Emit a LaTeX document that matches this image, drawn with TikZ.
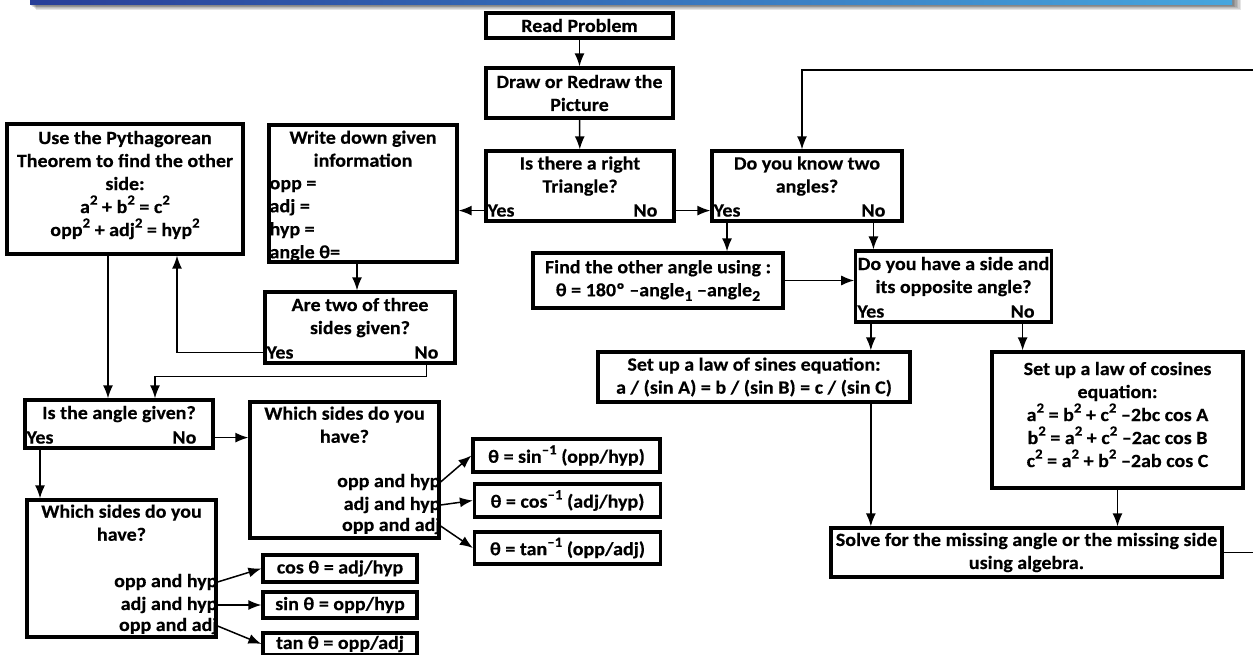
\documentclass[tikz,border=0pt]{standalone}
\usepackage{fontspec}
\setmainfont{Carlito}[BoldFeatures={FakeStretch=1.07,FakeBold=0.4}]
\usetikzlibrary{arrows.meta}

\definecolor{bannerLeft}{RGB}{40,62,152}
\definecolor{bannerRight}{RGB}{70,166,222}
\newcommand{\supTxt}[1]{\raisebox{0.45em}{\fontsize{14}{14}\selectfont #1}}
\newcommand{\subTxt}[1]{\raisebox{-0.25em}{\fontsize{15}{15}\selectfont #1}}

\begin{document}
\begin{tikzpicture}
[x=1pt,y=-1pt,
  boxDecorate/.style={draw,line width=3.2pt,inner sep=2pt,align=center},%
  textDecorate/.style={inner sep=1pt},%
  arrowDecorate/.style={line width=1.5pt,-{Latex[length=13pt,width=10pt]}},%
  font=\fontsize{18.7}{23}\selectfont\bfseries]
\useasboundingbox (0,0) rectangle (1253,655);
%% banner with its shadow
\foreach \d in {1,...,6}
  \fill[black,opacity=0.1] ({30+\d},-10) rectangle ({1232+1.5*\d},{5+0.8*\d});
\shade[left color=bannerLeft,right color=bannerRight] (30,-10) rectangle (1232,5);

%% main column
\node[boxDecorate,minimum width=187pt,minimum height=25pt] (readProblem) at (579.5,25.5) {Read Problem};
\node[boxDecorate,minimum width=187pt,minimum height=50pt] (drawPicture) at (579.5,93) {Draw or Redraw the\\Picture};
\node[boxDecorate,minimum width=188pt,minimum height=70pt] (isRight) at (580,186) {Is there a right\\Triangle?\\~};
\node[boxDecorate,minimum width=190pt,minimum height=70pt] (knowTwo) at (807,186) {Do you know two\\angles?\\~};
\node[boxDecorate,minimum width=250pt,minimum height=55pt] (findAngle) at (658,280.5)
  {Find the other angle using :\\θ = 180º –angle\subTxt{1} –angle\subTxt{2}};
\node[boxDecorate,minimum width=189pt,minimum height=71pt] (sideAngle) at (953.5,286.5) {Do you have a side and\\its opposite angle?\\~};
\node[boxDecorate,minimum width=312pt,minimum height=50pt] (lawSines) at (754,377)
  {Set up a law of sines equation:\\a / (sin A) = b / (sin B) = c / (sin C)};
\node[boxDecorate,minimum width=251pt,minimum height=136pt] (lawCosines) at (1117.5,420)
  {Set up a law of cosines\\equation:\\a\supTxt{2} = b\supTxt{2} + c\supTxt{2} –2bc cos A\\
   b\supTxt{2} = a\supTxt{2} + c\supTxt{2} –2ac cos B\\c\supTxt{2} = a\supTxt{2} + b\supTxt{2} –2ab cos C\\[-12pt]~};
\node[boxDecorate,minimum width=391pt,minimum height=49pt] (solveIt) at (1026.5,552.5)
  {Solve for the missing angle or the missing side\\using algebra.};

%% right triangle branch
\node[boxDecorate,minimum width=236pt,minimum height=130pt] (pythag) at (125,189)
  {Use the Pythagorean\\Theorem to find the other\\side:\\a\supTxt{2} + b\supTxt{2} = c\supTxt{2}\\
   opp\supTxt{2} + adj\supTxt{2} = hyp\supTxt{2}\\[-12pt]~};
\node[boxDecorate,minimum width=188pt,minimum height=137pt] (writeDown) at (363,193.5) {};
\node[textDecorate,anchor=north,align=center] (writeDownHead) at ([yshift=-6pt]writeDown.north) {Write down given\\information};
\node[textDecorate,anchor=south west,align=left] (writeDownList) at ([xshift=1pt,yshift=1pt]writeDown.south west)
  {opp =\\adj =\\hyp =\\angle θ=};
\node[boxDecorate,minimum width=190pt,minimum height=71pt] (areTwo) at (360,327.5) {Are two of three\\sides given?\\~};
\node[boxDecorate,minimum width=188pt,minimum height=48pt] (isAngle) at (119,424) {Is the angle given?\\~};
\node[boxDecorate,minimum width=189pt,minimum height=136pt] (whichUp) at (344.5,470) {};
\node[boxDecorate,minimum width=189pt,minimum height=137pt] (whichLow) at (121.5,568.5) {};
\node[textDecorate,anchor=north,align=center] (whichUpHead) at ([yshift=-5pt]whichUp.north) {Which sides do you\\have?};
\node[textDecorate,anchor=north,align=center] (whichLowHead) at ([yshift=-5pt]whichLow.north) {Which sides do you\\have?};

%% result boxes
\node[boxDecorate,minimum width=187pt,minimum height=33pt] (invSin) at (566.5,455.5) {θ = sin\supTxt{–1} (opp/hyp)};
\node[boxDecorate,minimum width=186pt,minimum height=33pt] (invCos) at (567.5,500.5) {θ = cos\supTxt{–1} (adj/hyp)};
\node[boxDecorate,minimum width=186pt,minimum height=32pt] (invTan) at (567.5,548) {θ = tan\supTxt{–1} (opp/adj)};
\node[boxDecorate,minimum width=154pt,minimum height=27pt] (cosBox) at (340,568.5) {cos θ = adj/hyp};
\node[boxDecorate,minimum width=154pt,minimum height=26pt] (sinBox) at (340,605) {sin θ = opp/hyp};
\node[boxDecorate,minimum width=154pt,minimum height=22pt] (tanBox) at (340,644) {tan θ = opp/adj};

%% yes / no answers
\foreach \qname in {isRight,knowTwo,sideAngle,areTwo,isAngle}
{
  \node[textDecorate,anchor=west] (\qname Yes) at ([xshift=2pt,yshift=12pt]\qname.south west) {Yes};
  \node[textDecorate,anchor=east] (\qname No) at ([xshift=-17pt,yshift=12pt]\qname.south east) {No};
}

%% side pairs and their arrows
\foreach \pairname/\dy/\txt/\target in {OppHyp/12/opp and hyp/invSin, AdjHyp/35/adj and hyp/invCos, OppAdj/56/opp and adj/invTan}
{
  \node[textDecorate,inner sep=0pt,anchor=east] (up\pairname) at ([yshift=-\dy pt]whichUp.east) {\txt};
  \draw[arrowDecorate] (up\pairname.east) -- (\target.west);
}
\foreach \pairname/\dy/\txt/\target in {OppHyp/13.5/opp and hyp/cosBox, AdjHyp/36.5/adj and hyp/sinBox, OppAdj/57.5/opp and adj/tanBox}
{
  \node[textDecorate,inner sep=0pt,anchor=east] (low\pairname) at ([yshift=-\dy pt]whichLow.east) {\txt};
  \draw[arrowDecorate] (low\pairname.east) -- (\target.west);
}

%% connectors
\coordinate (loopCorner) at (1262,70);
\draw[arrowDecorate] (readProblem) -- (drawPicture);
\draw[arrowDecorate] (drawPicture) -- (isRight);
\draw[arrowDecorate] (isRight.west |- isRightYes) -- (writeDown.east |- isRightYes);
\draw[arrowDecorate] (isRight.east |- isRightNo) -- (knowTwo.west |- isRightNo);
\draw[arrowDecorate] (knowTwoYes |- knowTwo.south) -- (knowTwoYes |- findAngle.north);
\draw[arrowDecorate] (knowTwoNo |- knowTwo.south) -- (knowTwoNo |- sideAngle.north);
\draw[arrowDecorate] (findAngle.east) -- (findAngle.east -| sideAngle.west);
\draw[arrowDecorate] (sideAngleYes |- sideAngle.south) -- (sideAngleYes |- lawSines.north);
\draw[arrowDecorate] (sideAngleNo |- sideAngle.south) -- (sideAngleNo |- lawCosines.north);
\draw[arrowDecorate] (sideAngleYes |- lawSines.south) -- (sideAngleYes |- solveIt.north);
\draw[arrowDecorate] (lawCosines.south) -- (lawCosines.south |- solveIt.north);
\draw[arrowDecorate] (solveIt.east) -| (loopCorner) -| ([xshift=-5pt]knowTwo.north);
\draw[arrowDecorate] ([xshift=-6pt]writeDown.south) -- ([xshift=-6pt]writeDown.south |- areTwo.north);
\draw[arrowDecorate] (areTwo.west |- areTwoYes) -| ([xshift=52pt]pythag.south);
\draw[arrowDecorate] (areTwoNo |- areTwo.south) -- ++(0,12) -| ([xshift=36pt]isAngle.north);
\draw[arrowDecorate] ([xshift=-17pt]pythag.south) -- ([xshift=-17pt]pythag.south |- isAngle.north);
\draw[arrowDecorate] (isAngleYes |- isAngle.south) -- (isAngleYes |- whichLow.north);
\draw[arrowDecorate] (isAngle.east |- isAngleNo) -- (whichUp.west |- isAngleNo);
\end{tikzpicture}
\end{document}
